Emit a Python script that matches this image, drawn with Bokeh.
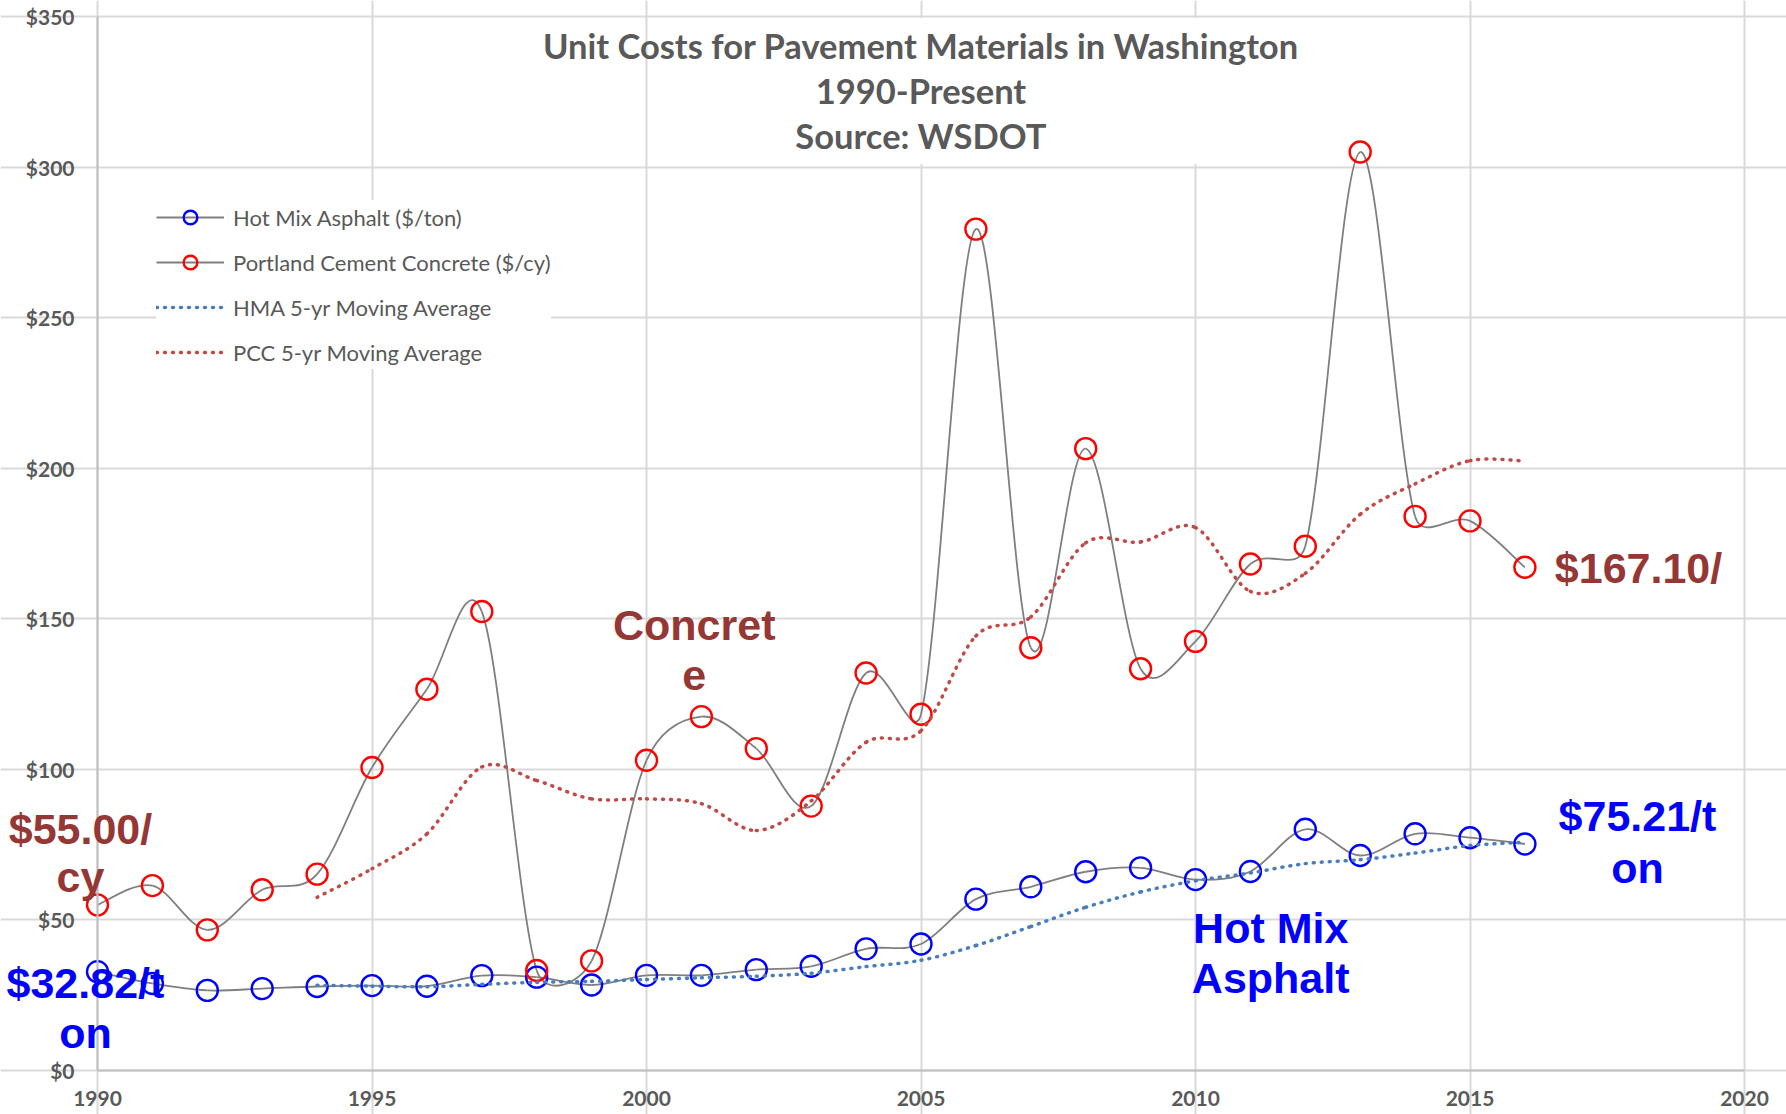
import math
from bokeh.plotting import figure
from bokeh.models import Range1d, FixedTicker, Label, Legend, LegendItem, BoxAnnotation
from bokeh.embed import file_html
from bokeh.resources import INLINE

# ---------------- data ----------------
years = list(range(1990, 2017))
hma = [32.82, 28.9, 26.6, 27.2, 27.9, 28.2, 28.0, 31.5, 31.0, 28.4, 31.6, 31.6, 33.5, 34.6,
       40.4, 42.0, 56.9, 61.0, 66.0, 67.3, 63.4, 66.1, 80.1, 71.4, 78.6, 77.3, 75.21]
pcc = [55.0, 61.4, 46.7, 60.0, 65.2, 100.6, 126.6, 152.4, 33.2, 36.4, 103.0, 117.5, 106.9, 87.8,
       132.0, 118.3, 279.4, 140.4, 206.5, 133.4, 142.5, 168.2, 174.1, 305.0, 184.0, 182.5, 167.1]
ma_years = list(range(1994, 2017))
hma_ma = [28.3, 28.0, 27.8, 28.6, 29.3, 29.6, 30.2, 30.8, 31.3, 32.3, 34.5, 36.6, 41.5, 47.8,
          54.2, 59.3, 63.0, 65.6, 68.7, 70.0, 72.2, 74.7, 75.8]
pcc_ma = [57.5, 67.0, 78.6, 100.8, 96.3, 90.2, 90.2, 88.6, 79.7, 89.5, 109.0, 112.8, 144.3, 150.6,
          175.2, 175.5, 180.3, 159.1, 165.1, 184.7, 194.8, 202.5, 202.4]

x_ticks = [1990, 1995, 2000, 2005, 2010, 2015, 2020]
x_tick_labels = ["1990", "1995", "2000", "2005", "2010", "2015", "2020"]
y_ticks = [0, 50, 100, 150, 200, 250, 300, 350]
y_tick_labels = ["$0", "$50", "$100", "$150", "$200", "$250", "$300", "$350"]

series_names = ["Hot Mix Asphalt ($/ton)", "Portland Cement Concrete ($/cy)",
                "HMA 5-yr Moving Average", "PCC 5-yr Moving Average"]
title_lines = ["Unit Costs for Pavement Materials in Washington", "1990-Present", "Source: WSDOT"]

# ---------------- layout constants ----------------
W, H = 1786, 1114
PX_YEAR = 1647 / 30.0      # pixels per year
PX_USD = 1054 / 350.0      # pixels per dollar
X0_PX, Y0_PX = 97, 1070    # page position of (1990, $0)

def smooth(xs, ys):
    """Bezier control points (data units) for an Excel-like smoothed line (Catmull-Rom, clamped)."""
    P = [(x * PX_YEAR, y * PX_USD) for x, y in zip(xs, ys)]
    n = len(P)
    tv = []
    for i in range(n):
        a = P[i - 1] if i > 0 else P[i]
        b = P[i + 1] if i < n - 1 else P[i]
        tv.append(((b[0] - a[0]) / 6.0, (b[1] - a[1]) / 6.0))

    def clamp(v, limit):
        L = math.hypot(v[0], v[1])
        if L > limit and L > 0:
            return (v[0] * limit / L, v[1] * limit / L)
        return v

    d = dict(x0=[], y0=[], x1=[], y1=[], cx0=[], cy0=[], cx1=[], cy1=[])
    for i in range(n - 1):
        seg = math.hypot(P[i + 1][0] - P[i][0], P[i + 1][1] - P[i][1])
        v0 = clamp(tv[i], seg / 2.0)
        v1 = clamp(tv[i + 1], seg / 2.0)
        c0 = (P[i][0] + v0[0], P[i][1] + v0[1])
        c1 = (P[i + 1][0] - v1[0], P[i + 1][1] - v1[1])
        d["x0"].append(xs[i]); d["y0"].append(ys[i])
        d["x1"].append(xs[i + 1]); d["y1"].append(ys[i + 1])
        d["cx0"].append(c0[0] / PX_YEAR); d["cy0"].append(c0[1] / PX_USD)
        d["cx1"].append(c1[0] / PX_YEAR); d["cy1"].append(c1[1] / PX_USD)
    return d

GRAY_TXT = "#595959"
DARK_RED = "#953735"
BLUE = "#0000ff"

x_rng = Range1d(1990 - X0_PX / PX_YEAR, 2020 + (W - (X0_PX + 1647)) / PX_YEAR)
y_rng = Range1d(-(H - Y0_PX) / PX_USD, 350 + (Y0_PX - 1054) / PX_USD)

p = figure(width=W, height=H, x_range=x_rng, y_range=y_rng,
           output_backend="svg", toolbar_location=None, title=None,
           min_border_left=0, min_border_right=0, min_border_top=0, min_border_bottom=0)
p.background_fill_color = "white"
p.border_fill_color = "white"
p.outline_line_color = None

p.xaxis.ticker = FixedTicker(ticks=x_ticks)
p.yaxis.ticker = FixedTicker(ticks=y_ticks)
p.xaxis.major_label_overrides = dict(zip(x_ticks, x_tick_labels))
p.yaxis.major_label_overrides = dict(zip(y_ticks, y_tick_labels))
p.xaxis.fixed_location = 0
p.yaxis.fixed_location = 1990
p.xaxis.bounds = (1990, 2020)
p.yaxis.bounds = (0, 350)
p.xgrid.ticker = FixedTicker(ticks=x_ticks)
p.ygrid.ticker = FixedTicker(ticks=y_ticks)
p.xgrid.bounds = (0, 350)
p.ygrid.bounds = (1990, 2020)
for g in (p.xgrid, p.ygrid):
    g.grid_line_color = "#d9d9d9"
    g.grid_line_width = 2
for ax in (p.xaxis, p.yaxis):
    ax.axis_line_color = "#bfbfbf"
    ax.axis_line_width = 2
    ax.major_tick_line_color = None
    ax.minor_tick_line_color = None
    ax.major_tick_out = 0
    ax.major_tick_in = 0
    ax.major_label_text_font = "Lato"
    ax.major_label_text_font_style = "bold"
    ax.major_label_text_font_size = "21px"
    ax.major_label_text_color = GRAY_TXT
p.xaxis.major_label_standoff = 20
p.yaxis.major_label_standoff = 23

# title background box
p.add_layout(BoxAnnotation(left=2000.3, right=2011.7, bottom=301, top=349.5,
                           fill_color="white", fill_alpha=1, line_color=None))

# data series
def bez(d, **kw):
    return p.bezier(source=d, x0="x0", y0="y0", x1="x1", y1="y1",
                    cx0="cx0", cy0="cy0", cx1="cx1", cy1="cy1", **kw)

hma_line = bez(smooth(years, hma), line_color="#7f7f7f", line_width=1.8)
pcc_line = bez(smooth(years, pcc), line_color="#7f7f7f", line_width=1.8)
hma_pts = p.scatter(years, hma, marker="circle", size=21, line_color=BLUE, line_width=2.4,
                    fill_alpha=0)
pcc_pts = p.scatter(years, pcc, marker="circle", size=21, line_color="#ff0000", line_width=2.4,
                    fill_alpha=0)
hma_ma_line = bez(smooth(ma_years, hma_ma), line_color="#4a7ebb", line_width=3.5,
                  line_dash="1 7", line_cap="round")
pcc_ma_line = bez(smooth(ma_years, pcc_ma), line_color="#be4b48", line_width=3.5,
                  line_dash="1 7", line_cap="round")

legend = Legend(items=[
    LegendItem(label=series_names[0], renderers=[hma_line, hma_pts]),
    LegendItem(label=series_names[1], renderers=[pcc_line, pcc_pts]),
    LegendItem(label=series_names[2], renderers=[hma_ma_line]),
    LegendItem(label=series_names[3], renderers=[pcc_ma_line]),
], location=(156, 745))
legend.glyph_width = 68
legend.glyph_height = 34
legend.label_height = 34
legend.spacing = 11
legend.padding = 10
legend.margin = 0
legend.label_standoff = 9
legend.label_text_font = "Lato"
legend.label_text_font_size = "22px"
legend.label_text_color = GRAY_TXT
legend.border_line_color = None
legend.background_fill_color = "white"
legend.background_fill_alpha = 1
p.add_layout(legend, "center")

# title
for txt, yv in zip(title_lines, [340.3, 325.4, 310.4]):
    p.add_layout(Label(x=2005, y=yv, text=txt, text_align="center", text_baseline="alphabetic",
                       text_font="Lato", text_font_style="bold", text_font_size="34.5px",
                       text_color=GRAY_TXT))

# annotations
annots = [
    ("$55.00/", 1989.69, 80.2, DARK_RED), ("cy", 1989.69, 64.1, DARK_RED),
    ("$32.82/t", 1989.78, 29.2, BLUE), ("on", 1989.78, 12.6, BLUE),
    ("Concret", 2000.87, 147.8, DARK_RED), ("e", 2000.87, 131.2, DARK_RED),
    ("$167.10/", 2018.07, 166.7, DARK_RED),
    ("$75.21/t", 2018.05, 84.5, BLUE), ("on", 2018.05, 67.4, BLUE),
    ("Hot Mix", 2011.37, 47.2, BLUE), ("Asphalt", 2011.37, 30.6, BLUE),
]
for txt, xv, yv, col in annots:
    p.add_layout(Label(x=xv, y=yv, text=txt, text_align="center", text_baseline="alphabetic",
                       text_font="Liberation Sans", text_font_style="bold", text_font_size="43px",
                       text_color=col))

open("out.html", "w").write(file_html(p, INLINE))
